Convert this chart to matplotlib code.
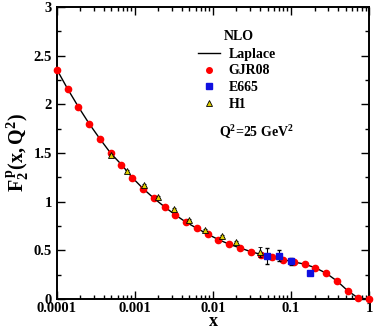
import matplotlib
matplotlib.use("Agg")
import matplotlib.pyplot as plt
from matplotlib.lines import Line2D
from matplotlib.ticker import LogLocator, MultipleLocator, FixedFormatter, FixedLocator, FuncFormatter

plt.rcParams['font.family'] = ['Liberation Serif', 'DejaVu Serif']
plt.rcParams['font.weight'] = 'bold'
plt.rcParams['mathtext.fontset'] = 'custom'
plt.rcParams['mathtext.rm'] = 'Liberation Serif:bold'
plt.rcParams['mathtext.bf'] = 'Liberation Serif:bold'
plt.rcParams['mathtext.it'] = 'Liberation Serif:bold'

# GJR08 / Laplace curve values
x_gjr = [1e-4, 1.374e-4, 1.889e-4, 2.595e-4, 3.566e-4, 4.894e-4, 6.723e-4, 9.24e-4,
         1.27e-3, 1.745e-3, 2.395e-3, 3.29e-3, 4.52e-3, 6.21e-3, 8.53e-3, 0.01172,
         0.0161, 0.0221, 0.0304, 0.0418, 0.0574, 0.0788, 0.1083, 0.1488, 0.2045,
         0.281, 0.386, 0.530, 0.728, 1.0]
f2_gjr = [2.357, 2.158, 1.973, 1.80, 1.644, 1.497, 1.38, 1.247, 1.134, 1.035, 0.946,
          0.863, 0.788, 0.726, 0.665, 0.61, 0.562, 0.524, 0.486, 0.455, 0.428, 0.404,
          0.38, 0.357, 0.32, 0.264, 0.185, 0.085, 0.007, 0.0]

# E665 data
x_e665 = [0.049, 0.07, 0.1, 0.174]
f2_e665 = [0.442, 0.445, 0.385, 0.264]
err_e665 = [0.085, 0.06, 0.04, 0.015]

# H1 data
x_h1 = [0.0005, 0.0008, 0.0013, 0.002, 0.0032, 0.005, 0.008, 0.013, 0.02, 0.04]
f2_h1 = [1.48, 1.31, 1.168, 1.05, 0.92, 0.81, 0.712, 0.647, 0.583, 0.483]
err_h1 = [0.01, 0.01, 0.01, 0.01, 0.01, 0.01, 0.01, 0.01, 0.01, 0.05]

fig = plt.figure(figsize=(3.74, 3.31), dpi=100)
ax = fig.add_axes([0.152, 0.097, 0.835, 0.882])

ax.plot(x_gjr, f2_gjr, color='black', lw=1.0, zorder=2)
ax.plot(x_gjr, f2_gjr, 'o', color='red', ms=4.5, mec='red', zorder=3, clip_on=False)
ax.errorbar(x_h1, f2_h1, yerr=err_h1, fmt='^', color='black', mfc='#e0d000',
            mec='black', mew=0.6, ms=4.5, elinewidth=0.8, capsize=1.5, zorder=4)
ax.errorbar(x_e665, f2_e665, yerr=err_e665, fmt='s', color='black', mfc='#1010e0',
            mec='#1010e0', ms=5, elinewidth=0.8, capsize=1.5, zorder=5)

ax.set_xscale('log')
ax.set_xlim(1e-4, 1)
ax.set_ylim(0, 3)
ax.xaxis.set_major_locator(FixedLocator([1e-4, 1e-3, 1e-2, 1e-1, 1]))
ax.xaxis.set_major_formatter(FixedFormatter(['0.0001', '0.001', '0.01', '0.1', '1']))
ax.xaxis.set_minor_locator(LogLocator(base=10, subs=range(2, 10), numticks=20))
ax.xaxis.set_minor_formatter(plt.NullFormatter())
ax.yaxis.set_major_locator(MultipleLocator(0.5))
ax.yaxis.set_minor_locator(MultipleLocator(0.25))
ax.yaxis.set_major_formatter(FuncFormatter(lambda v, p: '%g' % v))

ax.tick_params(which='both', direction='in', top=True, right=True, labelsize=10.5, width=1)
ax.tick_params(which='major', length=6)
ax.tick_params(which='minor', length=3)
ax.tick_params(axis='x', pad=2)
for s in ax.spines.values():
    s.set_linewidth(1.4)

ax.set_xlabel('x', fontsize=13, fontweight='bold', labelpad=-1)
ax.set_ylabel(r'$\mathbf{F_2^{\,p}(x,Q^2)}$', fontsize=14.5, labelpad=2)

handles = [Line2D([], [], color='black', lw=1.0),
           Line2D([], [], marker='o', ls='none', color='red', ms=4),
           Line2D([], [], marker='s', ls='none', mfc='#1010e0', mec='#1010e0', ms=4),
           Line2D([], [], marker='^', ls='none', mfc='#e0d000', mec='black', mew=0.6, ms=4)]
labels = ['Laplace', 'GJR08', 'E665', 'H1']
leg = ax.legend(handles, labels, loc='upper left',
                bbox_to_anchor=(0.435, 0.88), frameon=False, fontsize=10,
                handlelength=1.6, handletextpad=0.6, labelspacing=0.28,
                borderaxespad=0)
ax.text(0.535, 0.9, 'NLO', transform=ax.transAxes, fontsize=10,
        fontweight='bold', va='center')
ax.text(0.52, 0.555, r'$\mathbf{Q^2}$=25 GeV$\mathbf{^2}$', transform=ax.transAxes,
        fontsize=10, fontweight='bold')

fig.savefig('out.png', dpi=100)
